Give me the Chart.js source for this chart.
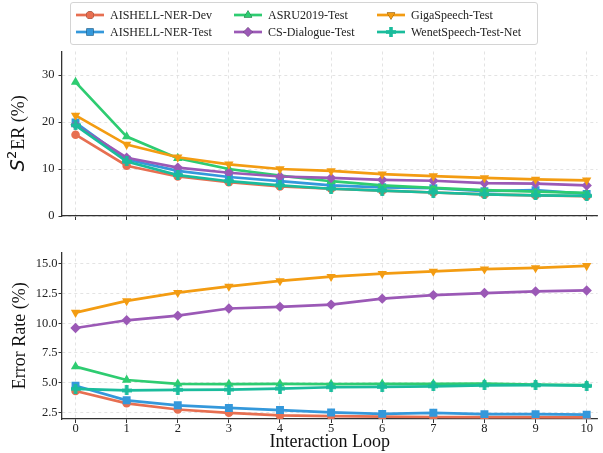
<!DOCTYPE html>
<html>
<head>
<meta charset="utf-8">
<script src="https://cdn.jsdelivr.net/npm/chart.js@4"></script>
<style>
    body { margin: 0; background: #fff; width: 603px; height: 453px; overflow: hidden; position: relative; }
    #legend { position: absolute; left: 70px; top: 2px; width: 466px; height: 41px; border: 1px solid #d4d4d4; border-radius: 3px; background: #fff; z-index: 2; }
    .item { position: absolute; height: 16px; display: flex; align-items: center; font: 12px "Liberation Serif", serif; color: #222; white-space: nowrap; }
    .item canvas { margin-right: 6px; }
    #top { position: absolute; left: 0; top: 40px; }
    #bottom { position: absolute; left: 0; top: 244px; }
</style>
</head>
<body>
<div id="legend"></div>
<canvas id="top" width="603" height="188"></canvas>
<canvas id="bottom" width="603" height="209"></canvas>
<script>
    const loops = [0, 1, 2, 3, 4, 5, 6, 7, 8, 9, 10];
    const names = ['AISHELL-NER-Dev', 'AISHELL-NER-Test', 'ASRU2019-Test', 'CS-Dialogue-Test', 'GigaSpeech-Test', 'WenetSpeech-Test-Net'];
    const colors = ['#E76F51', '#3498DB', '#2ECC71', '#9B59B6', '#F39C12', '#1ABC9C'];

    // S2ER (%)
    const s2erDev = [17.3, 10.7, 8.4, 7.2, 6.3, 5.8, 5.4, 5.0, 4.6, 4.4, 4.2];
    const s2erTest = [19.9, 12.0, 9.6, 8.3, 7.4, 6.5, 6.1, 5.9, 5.3, 5.5, 4.7];
    const s2erAsru = [28.5, 16.9, 12.3, 10.0, 8.6, 7.4, 6.5, 6.0, 5.5, 5.2, 4.9];
    const s2erCs = [19.4, 12.4, 10.3, 9.2, 8.4, 8.1, 7.7, 7.5, 7.0, 6.9, 6.5];
    const s2erGiga = [21.4, 15.2, 12.5, 11.0, 10.0, 9.6, 8.9, 8.5, 8.1, 7.8, 7.6];
    const s2erWenet = [19.3, 11.6, 8.7, 7.4, 6.5, 5.8, 5.4, 5.0, 4.6, 4.4, 4.3];

    // Error Rate (%)
    const errDev = [4.3, 3.27, 2.75, 2.47, 2.25, 2.2, 2.15, 2.12, 2.1, 2.1, 2.08];
    const errTest = [4.75, 3.52, 3.1, 2.88, 2.7, 2.5, 2.38, 2.47, 2.36, 2.36, 2.32];
    const errAsru = [6.35, 5.23, 4.9, 4.88, 4.9, 4.88, 4.9, 4.9, 4.92, 4.85, 4.8];
    const errCs = [9.6, 10.25, 10.64, 11.24, 11.38, 11.57, 12.07, 12.37, 12.54, 12.68, 12.76];
    const errGiga = [10.9, 11.88, 12.57, 13.1, 13.56, 13.92, 14.17, 14.36, 14.55, 14.66, 14.83];
    const errWenet = [4.49, 4.35, 4.4, 4.42, 4.5, 4.62, 4.65, 4.7, 4.78, 4.8, 4.75];

    const s2erTicks = [0, 10, 20, 30];
    const errTicks = [2.5, 5.0, 7.5, 10.0, 12.5, 15.0];

    // filled plus marker for WenetSpeech
    function plusMarker(color, s) {
        const c = document.createElement('canvas');
        c.width = s; c.height = s;
        const g = c.getContext('2d');
        const t = s * 0.36;
        g.fillStyle = color;
        g.fillRect((s - t) / 2, 0, t, s);
        g.fillRect(0, (s - t) / 2, s, t);
        return c;
    }

    const styles = [
        {pointStyle: 'circle', rotation: 0, radius: 4.3},
        {pointStyle: 'rect', rotation: 0, radius: 5.6},
        {pointStyle: 'triangle', rotation: 0, radius: 5.4},
        {pointStyle: 'rectRot', rotation: 0, radius: 5.2},
        {pointStyle: 'triangle', rotation: 180, radius: 5.4},
        {pointStyle: plusMarker(colors[5], 10), rotation: 0, radius: 5}
    ];

    function makeDatasets(series) {
        return series.map((vals, i) => ({
            label: names[i],
            data: loops.map((x, j) => ({x: x, y: vals[j]})),
            borderColor: colors[i],
            backgroundColor: colors[i],
            borderWidth: 2.7,
            pointStyle: styles[i].pointStyle,
            rotation: styles[i].rotation,
            pointRadius: styles[i].radius,
            pointBorderColor: colors[i],
            pointBorderWidth: 0,
            tension: 0,
            order: 5 - i
        }));
    }

    const serif = '"Liberation Serif", "Times New Roman", serif';

    // S^2ER title drawn like matplotlib mathtext
    const mathTitle = {
        id: 'mathTitle',
        afterDraw(chart, args, o) {
            if (!o.on) return;
            const ctx = chart.ctx;
            const parts = [
                {t: 'S', f: 'italic 19px "DejaVu Sans"', dy: 0},
                {t: '2', f: '13px "DejaVu Sans"', dy: -8},
                {t: 'ER (%)', f: '18px ' + serif, dy: 0}
            ];
            ctx.save();
            let total = 0;
            parts.forEach(p => { ctx.font = p.f; p.w = ctx.measureText(p.t).width; total += p.w; });
            ctx.translate(24, (chart.chartArea.top + chart.chartArea.bottom) / 2);
            ctx.rotate(-Math.PI / 2);
            ctx.fillStyle = '#111';
            ctx.textBaseline = 'alphabetic';
            let x = -total / 2;
            parts.forEach(p => { ctx.font = p.f; ctx.fillText(p.t, x, p.dy); x += p.w + (p.t === '2' ? 1 : 0); });
            ctx.restore();
        }
    };

    function makeChart(id, series, opts) {
        return new Chart(document.getElementById(id), {
            type: 'line',
            data: {datasets: makeDatasets(series)},
            plugins: [mathTitle],
            options: {
                responsive: false,
                animation: false,
                layout: {padding: {top: 6, right: 0, left: 0, bottom: 0}},
                plugins: {legend: {display: false}, tooltip: {enabled: false}, mathTitle: {on: opts.math}},
                scales: {
                    x: {
                        type: 'linear',
                        min: -0.265,
                        max: 10.21,
                        afterBuildTicks: s => { s.ticks = loops.map(v => ({value: v})); },
                        afterFit: s => { s.height = opts.xHeight; },
                        ticks: {
                            color: opts.showX ? '#222' : 'rgba(0,0,0,0)',
                            font: {family: serif, size: 12.5},
                            padding: -2,
                            maxRotation: 0
                        },
                        grid: {color: '#dcdcdc', lineWidth: 0.8, tickColor: '#333', tickLength: 4, tickWidth: 1},
                        border: {color: '#333', width: 1.3, dash: [3, 3]},
                        title: opts.showX ? {
                            display: true, text: 'Interaction Loop', color: '#111',
                            font: {family: serif, size: 18}, padding: {top: 0, bottom: 0}
                        } : {display: false}
                    },
                    y: {
                        min: opts.yMin,
                        max: opts.yMax,
                        afterBuildTicks: s => { s.ticks = opts.yTicks.map(v => ({value: v})); },
                        afterFit: s => { s.width = 62; },
                        ticks: {
                            color: '#222',
                            font: {family: serif, size: 12.5},
                            padding: opts.yPad,
                            callback: opts.fmt
                        },
                        grid: {color: '#dcdcdc', lineWidth: 0.8, tickColor: '#333', tickLength: 3.5, tickWidth: 1},
                        border: {color: '#333', width: 1.3, dash: [3, 3]},
                        title: {
                            display: !opts.math, text: opts.yTitle, color: '#111',
                            font: {family: serif, size: 18}, padding: {top: 9, bottom: 0}
                        }
                    }
                }
            }
        });
    }

    makeChart('top', [s2erDev, s2erTest, s2erAsru, s2erCs, s2erGiga, s2erWenet], {
        showX: false, math: true, xHeight: 12, yMin: 0, yMax: 35, yTicks: s2erTicks, yPad: 4,
        yTitle: 'S²ER (%)', fmt: v => String(v)
    });
    makeChart('bottom', [errDev, errTest, errAsru, errCs, errGiga, errWenet], {
        showX: true, math: false, xHeight: 34, yMin: 1.95, yMax: 15.95, yTicks: errTicks, yPad: 1,
        yTitle: 'Error Rate (%)', fmt: v => v.toFixed(1)
    });

    // legend, three columns like the original
    const legend = document.getElementById('legend');
    const colLeft = [5, 163, 306];
    names.forEach((name, i) => {
        const col = Math.floor(i / 2), row = i % 2;
        const item = document.createElement('div');
        item.className = 'item';
        item.style.left = colLeft[col] + 'px';
        item.style.top = (row === 0 ? 4 : 21) + 'px';
        const ic = document.createElement('canvas');
        ic.width = 28; ic.height = 12;
        const g = ic.getContext('2d');
        g.strokeStyle = colors[i];
        g.lineWidth = 2.7;
        g.beginPath(); g.moveTo(0, 6); g.lineTo(28, 6); g.stroke();
        Chart.helpers.drawPoint(g, {
            pointStyle: styles[i].pointStyle, rotation: styles[i].rotation,
            radius: styles[i].radius * 0.9, borderWidth: 0
        }, 14, 6);
        g.fillStyle = colors[i];
        g.fill();
        item.appendChild(ic);
        const span = document.createElement('span');
        span.textContent = name;
        item.appendChild(span);
        legend.appendChild(item);
    });
</script>
</body>
</html>
